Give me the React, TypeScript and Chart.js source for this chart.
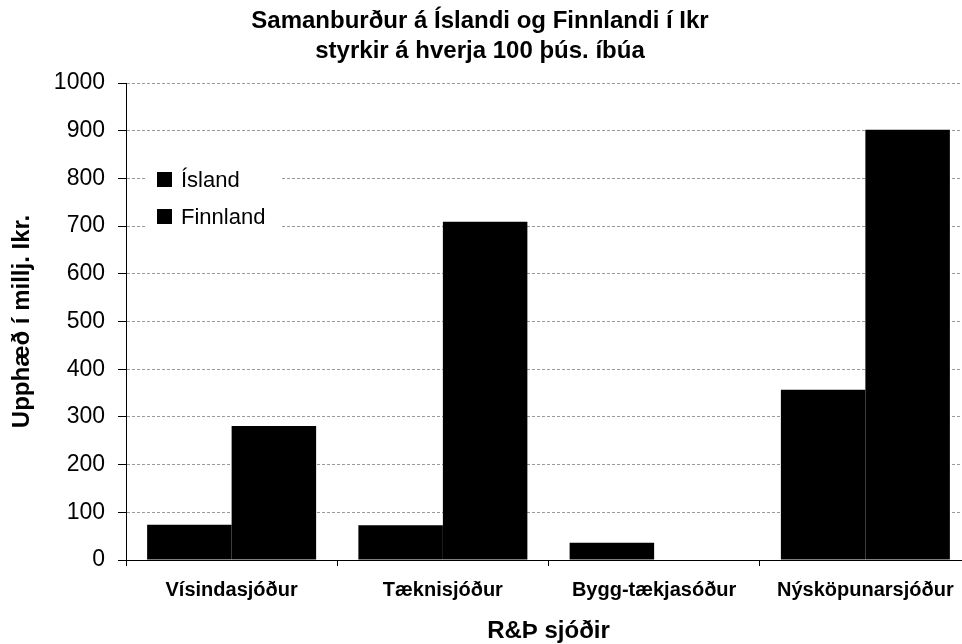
import React, { useEffect, useRef } from 'react';
import { Chart, registerables } from 'chart.js';

Chart.register(...registerables);

const categories = ['Vísindasjóður', 'Tæknisjóður', 'Bygg-tækjasóður', 'Nýsköpunarsjóður'];
const seriesNames = ['Ísland', 'Finnland'];
const islandValues = [74, 73, 36, 357];
const finnlandValues = [281, 709, 0, 902];
const titleLines = ['Samanburður á Íslandi og Finnlandi í Ikr', 'styrkir á hverja 100 þús. íbúa'];
const yAxisTitle = 'Upphæð í millj. Ikr.';
const xAxisTitle = 'R&Þ sjóðir';
const yMin = 0;
const yMax = 1000;
const yStep = 100;

const FONT = "'Liberation Sans', Arial, sans-serif";

const boxLegend = {
  id: 'boxLegend',
  afterDraw(chart: any) {
    const { ctx, chartArea } = chart;
    const x0 = chartArea.left + 21;
    const y0 = chartArea.top + 79;
    ctx.save();
    ctx.fillStyle = '#ffffff';
    ctx.fillRect(x0, y0, 135, 72);
    ctx.font = `22px ${FONT}`;
    ctx.textBaseline = 'middle';
    ctx.textAlign = 'left';
    chart.data.datasets.forEach((ds: any, i: number) => {
      const cy = y0 + 17.5 + i * 37;
      ctx.fillStyle = ds.backgroundColor;
      ctx.fillRect(x0 + 10, cy - 7.5, 15, 15);
      ctx.fillStyle = '#000';
      ctx.fillText(ds.label, x0 + 34, cy + 1);
    });
    ctx.restore();
  },
};

export default function App() {
  const ref = useRef<HTMLCanvasElement | null>(null);

  useEffect(() => {
    if (!ref.current) return;
    Chart.defaults.color = '#000';
    const chart = new Chart(ref.current, {
      type: 'bar',
      data: {
        labels: categories,
        datasets: [
          {
            label: seriesNames[0],
            data: islandValues,
            backgroundColor: '#000000',
            borderWidth: 0,
            categoryPercentage: 0.8,
            barPercentage: 1.0,
          },
          {
            label: seriesNames[1],
            data: finnlandValues,
            backgroundColor: '#000000',
            borderWidth: 0,
            categoryPercentage: 0.8,
            barPercentage: 1.0,
          },
        ],
      },
      options: {
        responsive: false,
        animation: false,
        layout: { padding: { left: -11, right: 0, top: 0, bottom: 0 } },
        plugins: {
          legend: { display: false },
          tooltip: { enabled: false },
          title: {
            display: true,
            text: titleLines,
            color: '#000',
            font: { family: FONT, size: 24, weight: 'bold', lineHeight: 1.25 },
            padding: { top: 6.5, bottom: 16.5 },
          },
        },
        scales: {
          x: {
            afterFit: (scale: any) => {
              scale.height = 84;
            },
            grid: {
              display: true,
              drawOnChartArea: false,
              drawTicks: true,
              tickLength: 6,
              tickColor: '#000',
              offset: true,
            },
            border: { display: true, color: '#000', width: 1 },
            ticks: {
              color: '#000',
              font: { family: FONT, size: 20, weight: 'bold' },
              padding: 12,
              maxRotation: 0,
              autoSkip: false,
            },
            title: {
              display: true,
              text: xAxisTitle,
              color: '#000',
              font: { family: FONT, size: 24, weight: 'bold' },
              padding: { top: 0, bottom: -2 },
            },
          },
          y: {
            min: yMin,
            max: yMax,
            afterFit: (scale: any) => {
              scale.width = 137;
            },
            grid: {
              color: (c: any) => (c.tick && c.tick.value === 0 ? 'rgba(0,0,0,0)' : '#9a9a9a'),
              lineWidth: 1,
              tickLength: 8,
              tickColor: '#000',
            },
            border: { display: true, color: '#000', width: 1, dash: [3, 2] },
            ticks: {
              stepSize: yStep,
              color: '#000',
              font: { family: FONT, size: 23 },
              padding: 13,
              callback: (v: any) => String(v),
            },
            title: {
              display: true,
              text: yAxisTitle,
              color: '#000',
              font: { family: FONT, size: 24, weight: 'bold' },
              padding: { top: 19, bottom: 0 },
            },
          },
        },
      },
      plugins: [boxLegend],
    });
    return () => chart.destroy();
  }, []);

  return (
    <div
      style={{
        position: 'absolute',
        left: 0,
        top: 0,
        width: 962,
        height: 644,
        overflow: 'hidden',
        background: '#fff',
      }}
    >
      <canvas ref={ref} width={971} height={644} style={{ display: 'block' }} />
    </div>
  );
}
